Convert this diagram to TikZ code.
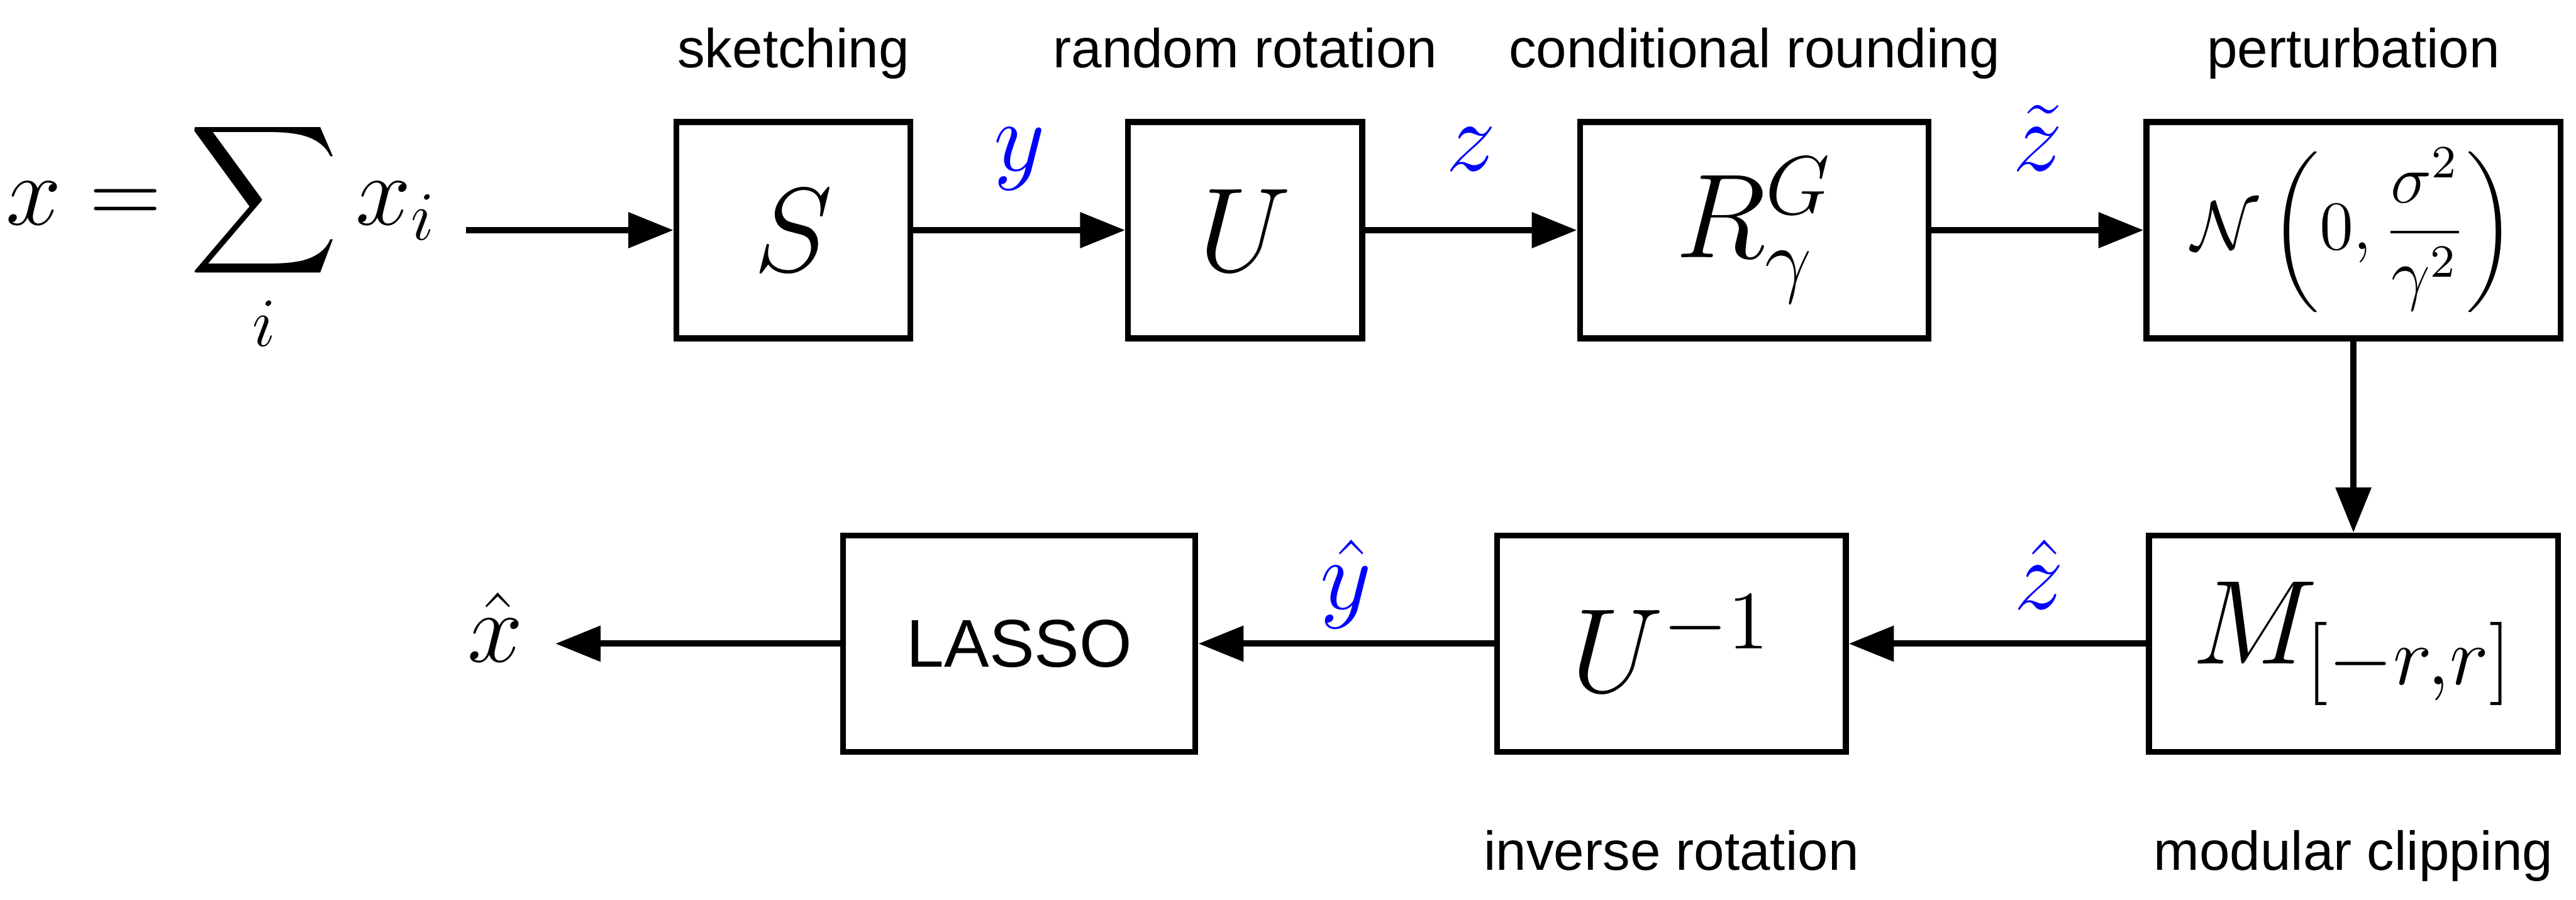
\documentclass[tikz,border=0pt]{standalone}
\usepackage{amsmath, amsfonts, amssymb}
\usepackage{fontspec}
\setsansfont{Liberation Sans}
\usetikzlibrary{positioning, arrows.meta}

\begin{document}
\begin{tikzpicture}[
        blk/.style={draw, line width=1pt, minimum height=1.317cm, inner sep=0pt,
                font=\fontsize{21}{25}\selectfont},
        lbl/.style={font=\sffamily\fontsize{9.5}{11}\selectfont, inner sep=0pt,
                text height=0.75em, text depth=0.25em},
        sig/.style={text=blue, font=\fontsize{18}{22}\selectfont, inner sep=0pt, anchor=base},
        flow/.style={line width=1.1pt, -{Triangle[length=2.75mm, width=2.1mm]}}
    ]
    \useasboundingbox (0,0) rectangle (15.682,-5.475);
    % top row
    \node[blk, minimum width=1.425cm] (S) at (4.83,-1.401) {$S$};
    \node[blk, minimum width=1.425cm, right=1.29cm of S] (U) {$U$};
    \node[blk, minimum width=2.124cm, right=1.29cm of U] (R) {$R_\gamma^G$};
    \node[blk, minimum width=2.52cm, right=1.29cm of R,
        font=\fontsize{11.6}{14}\selectfont] (N)
        {$\displaystyle \mathcal{N}\left(0,\frac{\sigma^2}{\gamma^2}\right)$};
    % bottom row
    \node[blk, minimum width=2.49cm, below=1.165cm of N] (M) {$M_{[-r,r]}$};
    \node[blk, minimum width=2.124cm, left=1.81cm of M] (Uinv) {$U^{-1}$};
    \node[blk, minimum width=2.145cm, left=1.80cm of Uinv,
        font=\sffamily\fontsize{11.7}{14}\selectfont] (L) {LASSO};
    \node[inner sep=0pt, anchor=base west, font=\fontsize{18}{22}\selectfont] (eq)
        at (0.03,-1.37) {$\displaystyle x=\sum_i x_i$};
    \node[font=\fontsize{18}{22}\selectfont, inner xsep=0.19cm, inner ysep=0pt, anchor=base] (xhat)
        at (3.015,-4.03) {$\hat{x}$};
    \coordinate (src) at (2.836,-1.401);

    \foreach \n/\t in {S/sketching, U/random rotation, R/conditional rounding, N/perturbation}{%
            \node[lbl, above=0.22cm of \n] {\t};
        }
    \foreach \n/\t in {Uinv/inverse rotation, M/modular clipping}{%
            \node[lbl, below=0.43cm of \n] {\t};
        }

    \draw[flow] (src) -- (S);
    \draw[flow] (S) -- (U) node[sig, midway, yshift=0.36cm] {$y$};
    \draw[flow] (U) -- (R) node[sig, midway, yshift=0.36cm] {$z$};
    \draw[flow] (R) -- (N) node[sig, midway, yshift=0.36cm] {$\tilde{z}$};
    \draw[flow] (N) -- (M);
    \draw[flow] (M) -- (Uinv) node[sig, pos=0.36, yshift=0.21cm] {$\hat{z}$};
    \draw[flow] (Uinv) -- (L) node[sig, midway, yshift=0.21cm] {$\hat{y}$};
    \draw[flow] (L) -- (L.west -| xhat.east);
\end{tikzpicture}
\end{document}
